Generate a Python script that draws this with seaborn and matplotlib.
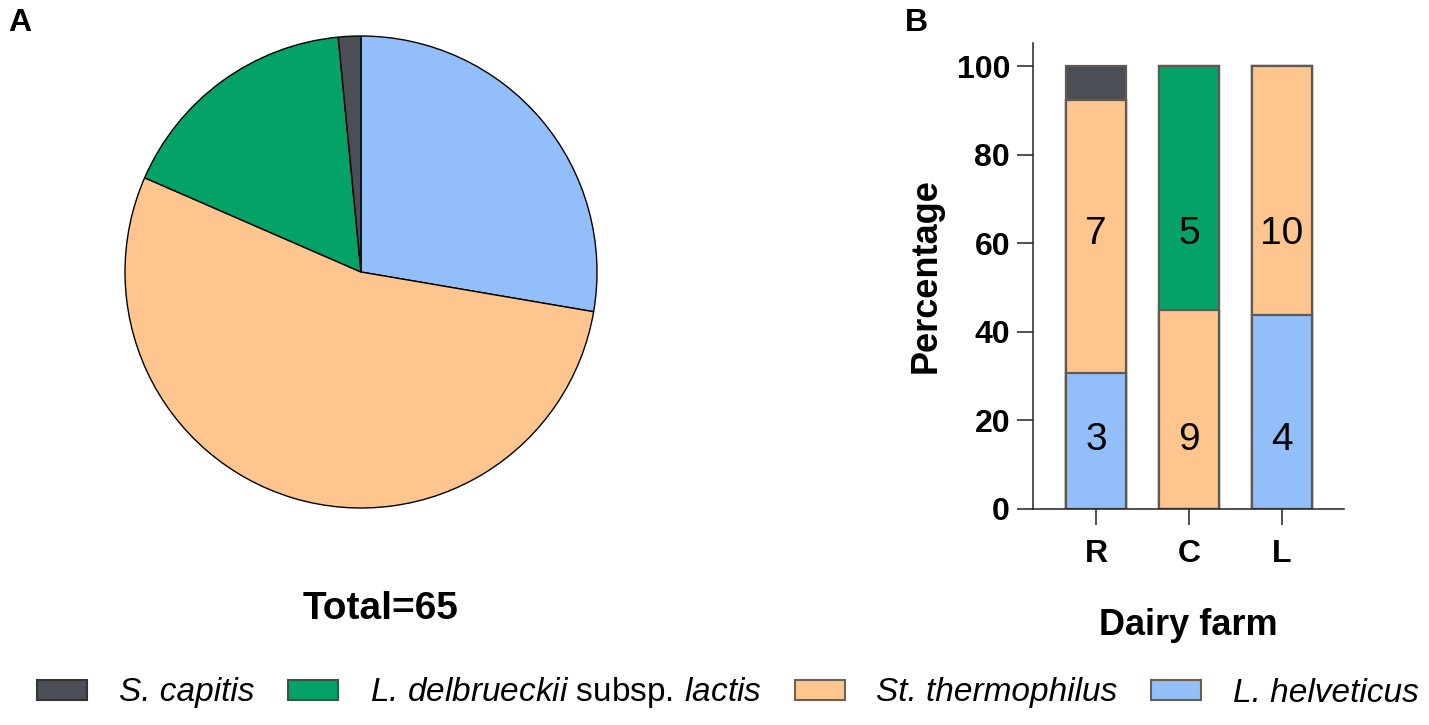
from matplotlib import pyplot as plt
from matplotlib.patches import Patch
import numpy as np
import pandas as pd
import seaborn as sns

# pie: isolate counts (total 65)
species = ['L. helveticus', 'St. thermophilus', 'L. delbrueckii subsp. lactis', 'S. capitis']
pie_counts = [18, 35, 11, 1]

# bars: percentage per dairy farm (stack order bottom -> top)
farms = ['R', 'C', 'L']
helveticus_pct = [30.8, 0.0, 43.75]
thermophilus_pct = [61.5, 45.0, 56.25]
delbrueckii_pct = [0.0, 55.0, 0.0]
capitis_pct = [7.7, 0.0, 0.0]

# numbers written inside the bars (lower row / upper row)
lower_n = ['3', '9', '4']
upper_n = ['7', '5', '10']
lower_y, upper_y = 15.6, 62

col_dark = '#4b4e54'
col_green = '#04a266'
col_orange = '#fec68e'
col_blue = '#92bff9'
bar_edge = '#5e5a52'

sns.set_style('ticks')
plt.rcParams['font.family'] = ['Liberation Sans', 'DejaVu Sans']
plt.rcParams['mathtext.fontset'] = 'custom'
plt.rcParams['mathtext.rm'] = 'Liberation Sans'
plt.rcParams['mathtext.it'] = 'Liberation Sans:italic'
plt.rcParams['text.color'] = 'black'
plt.rcParams['axes.labelcolor'] = 'black'
plt.rcParams['xtick.color'] = 'black'
plt.rcParams['ytick.color'] = 'black'

fig = plt.figure(figsize=(14.29, 7.25), dpi=100)

# ---- A: pie
ax1 = fig.add_axes([125/1429, 217/725, 472/1429, 472/725])
ax1.pie(pie_counts, colors=[col_blue, col_orange, col_green, col_dark],
        startangle=90, counterclock=False,
        wedgeprops=dict(edgecolor='black', linewidth=1.0, clip_on=False))
ax1.set_xlim(-1, 1)
ax1.set_ylim(-1, 1)
ax1.set_aspect('equal')
ax1.axis('off')

fig.text(381/1429, 1 - 609/725, 'Total=65', ha='center', va='center',
         fontsize=28, fontweight='bold')

# ---- B: stacked bars (drawn as layered cumulative bars)
ax2 = fig.add_axes([1033/1429, 216/725, 311/1429, 466/725])
df = pd.DataFrame({'farm': farms,
                   'helv': helveticus_pct, 'therm': thermophilus_pct,
                   'delb': delbrueckii_pct, 'cap': capitis_pct})
df['c1'] = df['helv']
df['c2'] = df['c1'] + df['therm']
df['c3'] = df['c2'] + df['delb']
df['c4'] = df['c3'] + df['cap']

for col, color in [('c4', col_dark), ('c3', col_green), ('c2', col_orange), ('c1', col_blue)]:
    sns.barplot(data=df, x='farm', y=col, color=color, width=0.645,
                edgecolor=bar_edge, linewidth=1.6, saturation=1, ax=ax2)

for i in range(len(farms)):
    ax2.text(i, lower_y, lower_n[i], ha='center', va='center', fontsize=28)
    ax2.text(i, upper_y, upper_n[i], ha='center', va='center', fontsize=28)

ax2.set_xlim(-0.677, 2.667)
ax2.set_ylim(0, 105.2)
ax2.set_yticks([0, 20, 40, 60, 80, 100])
sns.despine(ax=ax2)
for s in ['left', 'bottom']:
    ax2.spines[s].set_linewidth(1.1)
    ax2.spines[s].set_color('#222222')
ax2.tick_params(axis='both', length=11.5, width=1.1, color='#222222')
ax2.tick_params(axis='y', pad=5, labelsize=23)
ax2.tick_params(axis='x', pad=10, labelsize=23)
for t in ax2.get_xticklabels() + ax2.get_yticklabels():
    t.set_fontweight('bold')
ax2.set_ylabel('Percentage', fontsize=26, fontweight='bold', labelpad=9)
ax2.set_xlabel('Dairy farm', fontsize=26, fontweight='bold', labelpad=28)

fig.text(8/1429, 1 - 8/725, 'A', ha='left', va='top', fontsize=23, fontweight='bold')
fig.text(905/1429, 1 - 8/725, 'B', ha='left', va='top', fontsize=23, fontweight='bold')

# ---- legend (italic text, "subsp." upright)
handles = [Patch(facecolor=col_dark, edgecolor='#333333', linewidth=1.5),
           Patch(facecolor=col_green, edgecolor='#2f5a4a', linewidth=1.5),
           Patch(facecolor=col_orange, edgecolor='#6b6255', linewidth=1.5),
           Patch(facecolor=col_blue, edgecolor='#6b5f48', linewidth=1.5)]
labels = ['S. capitis',
          r'L. delbrueckii $\mathrm{subsp.}\,$lactis',
          'St. thermophilus',
          'L. helveticus']
fig.legend(handles, labels, loc='center', bbox_to_anchor=(728/1429, 1 - 693/725),
           ncol=4, frameon=False, prop={'size': 24, 'style': 'italic'},
           handlelength=1.5, handleheight=0.55,
           handletextpad=0.95, columnspacing=1.0, borderpad=0)

fig.savefig('out.png', dpi=100)
